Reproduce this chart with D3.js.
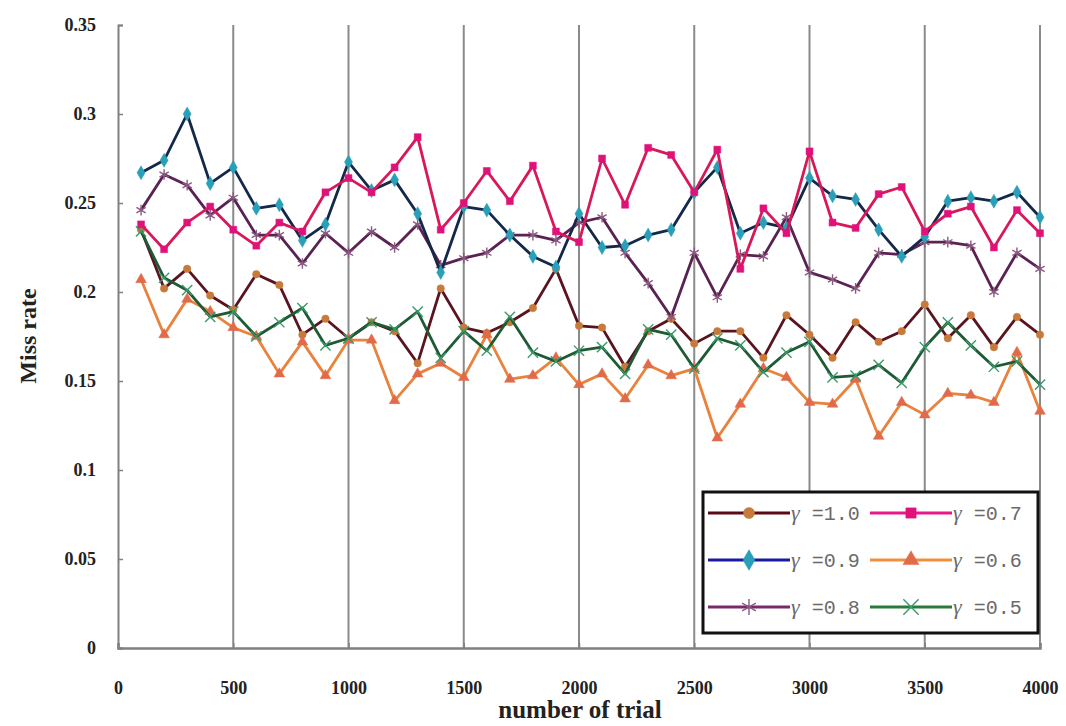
<!DOCTYPE html>
<html><head><meta charset="utf-8">
<script src="https://cdn.jsdelivr.net/npm/d3@7"></script>
<style>body{margin:0;background:#fff}svg{display:block}</style>
</head><body><svg id="c" width="1066" height="726"></svg>
<script>
const trials = d3.range(100, 4001, 100);
const xTicks = [0,500,1000,1500,2000,2500,3000,3500,4000];
const yTicks = [0,0.05,0.1,0.15,0.2,0.25,0.3,0.35];
const yTickLabels = ["0","0.05","0.1","0.15","0.2","0.25","0.3","0.35"];
const seriesNames = ["γ =1.0","γ =0.9","γ =0.8","γ =0.7","γ =0.6","γ =0.5"];
const g10 = [0.235,0.202,0.213,0.198,0.190,0.210,0.204,0.176,0.185,0.174,0.183,0.178,0.160,0.202,0.180,0.177,0.183,0.191,0.213,0.181,0.180,0.158,0.178,0.185,0.171,0.178,0.178,0.163,0.187,0.176,0.163,0.183,0.172,0.178,0.193,0.174,0.187,0.169,0.186,0.176];
const g09 = [0.267,0.274,0.300,0.261,0.270,0.247,0.249,0.229,0.238,0.273,0.257,0.263,0.244,0.211,0.248,0.246,0.232,0.220,0.214,0.244,0.225,0.226,0.232,0.235,0.256,0.270,0.233,0.239,0.236,0.264,0.254,0.252,0.235,0.220,0.231,0.251,0.253,0.251,0.256,0.242];
const g08 = [0.246,0.266,0.260,0.243,0.253,0.232,0.232,0.216,0.233,0.222,0.234,0.225,0.238,0.215,0.219,0.222,0.232,0.232,0.229,0.239,0.242,0.222,0.205,0.186,0.222,0.197,0.221,0.220,0.242,0.211,0.207,0.202,0.222,0.221,0.228,0.228,0.226,0.200,0.222,0.213];
const g07 = [0.238,0.224,0.239,0.248,0.235,0.226,0.239,0.234,0.256,0.264,0.256,0.270,0.287,0.235,0.250,0.268,0.251,0.271,0.234,0.228,0.275,0.249,0.281,0.277,0.256,0.280,0.213,0.247,0.233,0.279,0.239,0.236,0.255,0.259,0.234,0.244,0.248,0.225,0.246,0.233];
const g06 = [0.207,0.176,0.196,0.189,0.180,0.175,0.154,0.172,0.153,0.173,0.173,0.139,0.154,0.160,0.152,0.176,0.151,0.153,0.163,0.148,0.154,0.140,0.159,0.153,0.157,0.118,0.137,0.157,0.152,0.138,0.137,0.151,0.119,0.138,0.131,0.143,0.142,0.138,0.166,0.133];
const g05 = [0.234,0.208,0.201,0.186,0.189,0.175,0.183,0.191,0.170,0.174,0.183,0.179,0.189,0.163,0.178,0.167,0.186,0.166,0.161,0.167,0.169,0.154,0.179,0.176,0.157,0.174,0.170,0.155,0.166,0.172,0.152,0.153,0.159,0.149,0.169,0.183,0.170,0.158,0.161,0.148];

const series = [
  {name: seriesNames[0], values: g10, line:"#5a1420", mark:"#c77a3a", shape:"circle"},
  {name: seriesNames[1], values: g09, line:"#14284a", mark:"#2a9fb8", shape:"diamond"},
  {name: seriesNames[2], values: g08, line:"#5a2252", mark:"#8a5a80", shape:"star"},
  {name: seriesNames[3], values: g07, line:"#d8185a", mark:"#e0127a", shape:"square"},
  {name: seriesNames[4], values: g06, line:"#e8823c", mark:"#e06a4a", shape:"triangle"},
  {name: seriesNames[5], values: g05, line:"#1e5a34", mark:"#3a9a6a", shape:"cross"}
];
const legendLine = {"γ =1.0":"#5a0a14","γ =0.9":"#1a1aa0","γ =0.8":"#7a2a6a","γ =0.7":"#e8188a","γ =0.6":"#f0903c","γ =0.5":"#2a7a3a"};

const svg = d3.select("#c");
const x = d3.scaleLinear().domain([0,4000]).range([118,1040]);
const y = d3.scaleLinear().domain([0,0.35]).range([648,25]);

svg.append("g").selectAll("line").data(xTicks.slice(1)).join("line")
  .attr("x1",d=>x(d)).attr("x2",d=>x(d)).attr("y1",y(0.35)).attr("y2",y(0))
  .attr("stroke","#8a8a8a").attr("stroke-width",2);

const yAxis = d3.axisLeft(y).tickValues(yTicks).tickSize(-5).tickFormat((d,i)=>yTickLabels[i]).tickPadding(22);
const gy = svg.append("g").attr("transform","translate(118,0)").call(yAxis);
gy.select(".domain").attr("stroke","#808080").attr("stroke-width",2);
gy.selectAll(".tick line").attr("stroke","#808080").attr("stroke-width",1.5);
gy.selectAll("text").attr("font-family","Liberation Serif").attr("font-weight","bold").attr("font-size",18).attr("fill","#222");

const xAxis = d3.axisBottom(x).tickValues(xTicks).tickSize(-5).tickPadding(33).tickFormat(d3.format("d"));
const gx = svg.append("g").attr("transform","translate(0,648)").call(xAxis);
gx.select(".domain").attr("stroke","#808080").attr("stroke-width",2.5);
gx.selectAll(".tick line").attr("stroke","#808080").attr("stroke-width",1.5);
gx.selectAll("text").attr("font-family","Liberation Serif").attr("font-weight","bold").attr("font-size",18).attr("fill","#222");

svg.append("text").attr("x",580).attr("y",718).attr("text-anchor","middle")
  .attr("font-family","Liberation Serif").attr("font-weight","bold").attr("font-size",25).attr("fill","#222").text("number of trial");
svg.append("text").attr("transform","translate(36,336) rotate(-90)").attr("text-anchor","middle")
  .attr("font-family","Liberation Serif").attr("font-weight","bold").attr("font-size",24).attr("fill","#222").text("Miss rate");

function marker(sel, shape, color, scale){
  const sym = {circle:d3.symbolCircle, diamond:d3.symbolDiamond, square:d3.symbolSquare, triangle:d3.symbolTriangle, star:d3.symbolAsterisk, cross:d3.symbolX};
  const size = {circle:44, diamond:56, square:48, triangle:50, star:80, cross:70}[shape] * (scale||1);
  const p = sel.append("path").attr("d", d3.symbol().type(sym[shape]).size(size)());
  if(shape==="star"||shape==="cross") p.attr("fill","none").attr("stroke",color).attr("stroke-width",1.4);
  else p.attr("fill",color).attr("stroke",color).attr("stroke-width",0.5);
}

const line = d3.line().x((d,i)=>x(trials[i])).y(d=>y(d));
const order = [0,4,5,2,1,3];
order.forEach(k=>{
  const s = series[k];
  const g = svg.append("g");
  g.append("path").attr("d",line(s.values)).attr("fill","none").attr("stroke",s.line).attr("stroke-width",2.8).attr("stroke-linejoin","round");
  s.values.forEach((v,i)=>{
    const m = g.append("g").attr("transform",`translate(${x(trials[i])},${y(v)})`);
    marker(m, s.shape, s.mark);
  });
});

const lg = svg.append("g");
lg.append("rect").attr("x",703).attr("y",492).attr("width",335).attr("height",141).attr("fill","#fff").attr("stroke","#111").attr("stroke-width",3);
const legendOrder = [[0,3],[1,4],[2,5]];
legendOrder.forEach((row,r)=>{
  row.forEach((k,c)=>{
    const s = series[k];
    const x0 = c===0 ? 708 : 870;
    const yy = 513 + r*47;
    const lc = legendLine[s.name];
    lg.append("line").attr("x1",x0).attr("x2",x0+82).attr("y1",yy).attr("y2",yy).attr("stroke",lc).attr("stroke-width",3);
    const m = lg.append("g").attr("transform",`translate(${x0+41},${yy})`);
    marker(m, s.shape, s.mark, 2.2);
    const t = lg.append("text").attr("x",x0+83).attr("y",yy+7).attr("font-family","Liberation Mono").attr("font-size",20).attr("fill","#6a6a6a");
    t.append("tspan").attr("font-family","Liberation Serif").attr("font-style","italic").attr("font-size",22).text(s.name.slice(0,1));
    t.append("tspan").text(s.name.slice(1));
  });
});
</script></body></html>
